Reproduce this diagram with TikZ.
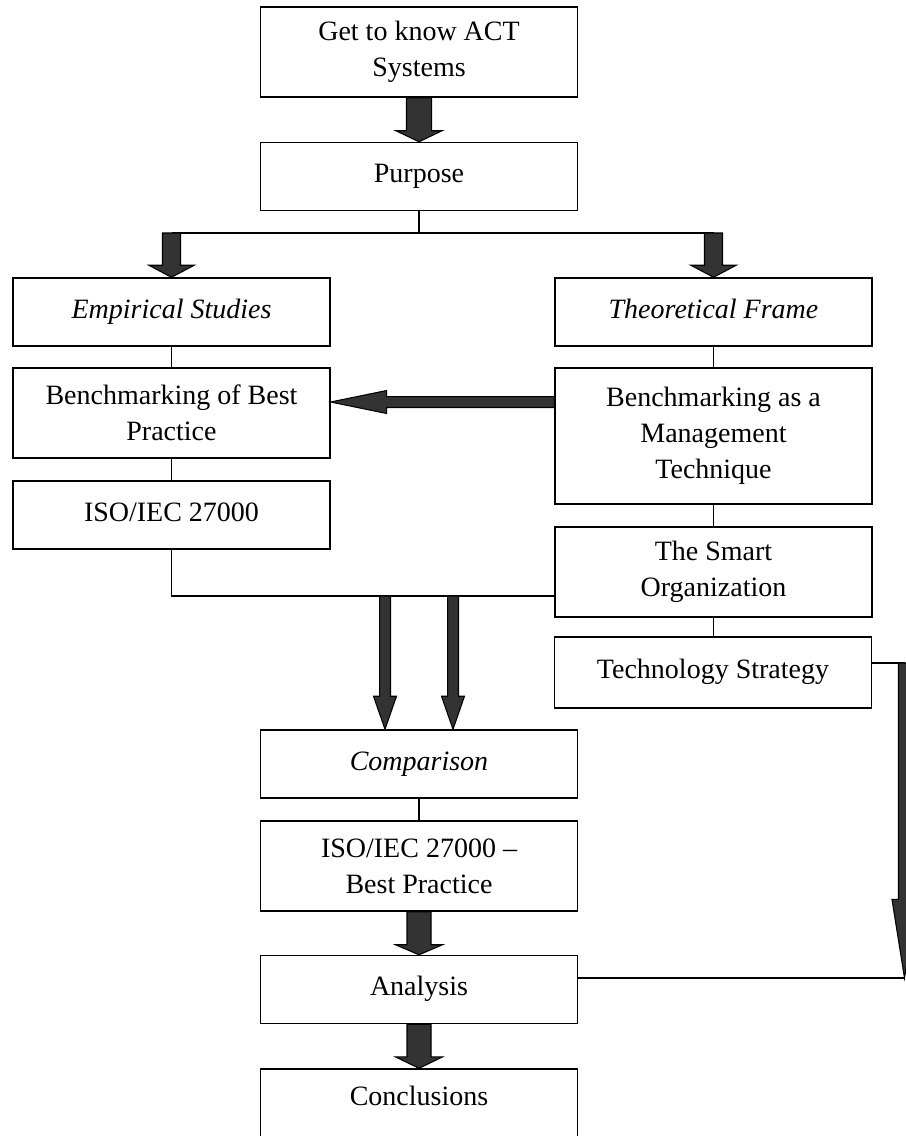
\documentclass[tikz,border=0pt]{standalone}
\usepackage{fontspec}
\setmainfont{Liberation Serif}
\usetikzlibrary{calc}

\definecolor{blockgray}{HTML}{333333}

% block arrows: from, to, half shaft, half head, head length
\newcommand{\blockdown}[5]{%
  \filldraw[block] let \p1=(#1), \p2=(#2) in
    (\x2-#3,\y1) -- (\x2-#3,\y2+#5) -- (\x2-#4,\y2+#5) -- (\x2,\y2)
    -- (\x2+#4,\y2+#5) -- (\x2+#3,\y2+#5) -- (\x2+#3,\y1) -- cycle;}
\newcommand{\blockleft}[5]{%
  \filldraw[block] let \p1=(#1), \p2=(#2) in
    (\x1,\y2+#3) -- (\x2+#5,\y2+#3) -- (\x2+#5,\y2+#4) -- (\x2,\y2)
    -- (\x2+#5,\y2-#4) -- (\x2+#5,\y2-#3) -- (\x1,\y2-#3) -- cycle;}

\begin{document}
\begin{tikzpicture}[x=0.75pt,y=-0.75pt,
    box/.style={draw,line width=1.1pt,minimum width=237.5pt,inner sep=0pt,align=center,
      font=\fontsize{21}{27}\selectfont},
    tall/.style={box,minimum height=67.5pt},
    oneline/.style={box,text height=14pt,text depth=4.5pt},
    short/.style={oneline,minimum height=51pt},
    link/.style={line width=1.1pt},
    block/.style={draw=black,fill=blockgray,line width=0.8pt}]
  \useasboundingbox (0,0) rectangle (906,1136);

  % middle column
  \node[tall] (know) at (419,52) {Get to know ACT\\Systems};
  \node[short] (purpose) at (419,176.5) {Purpose};

  % left column
  \node[short] (empirical) at (171.5,312) {\itshape Empirical Studies};
  \node[tall] (bestprac) at (171.5,413) {Benchmarking of Best\\Practice};
  \node[short] (iso) at (171.5,515) {ISO/IEC 27000};

  % right column
  \node[short] (theoretical) at (713.5,312) {\itshape Theoretical Frame};
  \node[box,minimum height=102pt] (manage) at (713.5,436) {Benchmarking as a\\Management\\Technique};
  \node[tall] (smart) at (713.5,572) {The Smart\\Organization};
  \node[oneline,minimum height=53.25pt] (tech) at (713,672.5) {Technology Strategy};

  % lower part
  \node[short] (compare) at (419,764) {\itshape Comparison};
  \node[tall] (isobest) at (419,866) {ISO/IEC 27000 --\\Best Practice};
  \node[short] (analysis) at (419,989.5) {Analysis};
  \node[tall] (concl) at (419,1114) {Conclusions\\ \mbox{}};

  \coordinate (fork) at (419,233);
  \coordinate (rtop) at (904.5,663);
  \coordinate (rtip) at (904.5,978);

  \draw[link] (purpose) -- (fork);
  \draw[link] (fork -| empirical) -- (fork -| theoretical);
  \draw[link] (empirical) -- (bestprac);
  \draw[link] (bestprac) -- (iso);
  \draw[link] (theoretical) -- (manage);
  \draw[link] (manage) -- (smart);
  \draw[link] (smart) -- (tech.north -| smart);
  \draw[link] (iso.south) |- (smart.west |- 0,596);
  \draw[link] (compare) -- (isobest);
  \draw[link] (tech.east |- rtop) -- (rtop);
  \draw[link] (analysis.east |- rtip) -- (rtip);

  \blockdown{know.south}{purpose.north}{9.4pt}{17.25pt}{8.25pt}
  \blockdown{fork -| empirical}{empirical.north}{6.75pt}{17pt}{9pt}
  \blockdown{fork -| theoretical}{theoretical.north}{6.75pt}{17pt}{9pt}
  \blockleft{manage.west |- 0,402}{bestprac.east |- 0,402}{4.1pt}{8.6pt}{42pt}
  \blockdown{385,596}{compare.north -| 385,0}{4.1pt}{8.6pt}{24.75pt}
  \blockdown{453,596}{compare.north -| 453,0}{4.1pt}{8.6pt}{24.75pt}
  \blockdown{isobest.south}{analysis.north}{9pt}{17.6pt}{7.5pt}
  \blockdown{analysis.south}{concl.north}{9pt}{17.6pt}{8.5pt}
  \blockdown{rtop}{rtip}{4.5pt}{9.4pt}{59pt}
\end{tikzpicture}
\end{document}
